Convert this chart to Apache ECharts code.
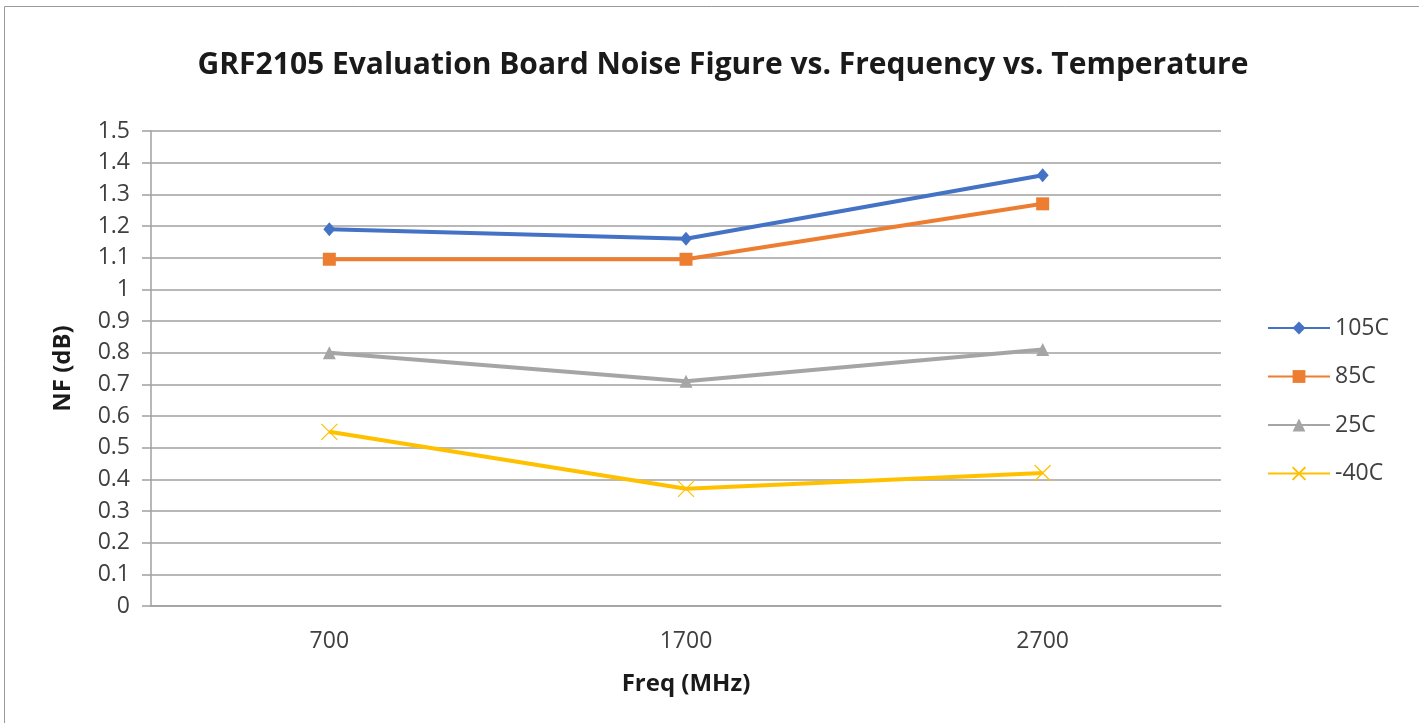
<!DOCTYPE html>
<html>
<head>
<meta charset="utf-8">
<script src="https://cdn.jsdelivr.net/npm/echarts@6/dist/echarts.min.js"></script>
<style>
html,body{margin:0;padding:0;background:#fff;}
#chart{width:1419px;height:723px;}
</style>
</head>
<body>
<div id="chart"></div>
<script>
const categories = ['700', '1700', '2700'];
const s105 = [1.19, 1.16, 1.36];
const s85 = [1.095, 1.095, 1.27];
const s25 = [0.80, 0.71, 0.81];
const sm40 = [0.55, 0.37, 0.42];
const seriesNames = ['105C', '85C', '25C', '-40C'];
const yTicks = { min: 0, max: 1.5, interval: 0.1 };

const chart = echarts.init(document.getElementById('chart'), null, { renderer: 'canvas' });
const txt = '#404040';
const font = '"Open Sans", sans-serif';
const colors = ['#4472c4', '#ed7d31', '#a5a5a5', '#ffc000'];
const symbols = ['diamond', 'rect', 'triangle', 'path://M0,0L10,10M10,0L0,10'];
const sizes = [[12, 14], 13, 13, 16];
const datas = [s105, s85, s25, sm40];

chart.setOption({
  animation: false,
  backgroundColor: '#fff',
  title: {
    text: 'GRF2105 Evaluation Board Noise Figure vs. Frequency vs. Temperature',
    left: 718, top: 45, textAlign: 'center',
    textStyle: { fontFamily: font, fontWeight: 'bold', fontSize: 30, color: '#1a1a1a' }
  },
  graphic: [
    { type: 'line', shape: { x1: 4.5, y1: 6.5, x2: 1419, y2: 6.5 }, style: { stroke: '#9a9a9a', lineWidth: 1 } },
    { type: 'line', shape: { x1: 4.5, y1: 6.5, x2: 4.5, y2: 723 }, style: { stroke: '#9a9a9a', lineWidth: 1 } }
  ],
  legend: {
    orient: 'vertical', left: 1262, top: 309, itemGap: 20.5,
    itemWidth: 62, itemHeight: 16,
    textStyle: { fontFamily: font, fontSize: 23, color: txt, lineHeight: 28 },
    data: seriesNames
  },
  grid: { left: 151, right: 198, top: 131, bottom: 117 },
  xAxis: {
    type: 'category', data: categories, boundaryGap: true,
    name: 'Freq (MHz)', nameLocation: 'middle', nameGap: 66,
    nameTextStyle: { fontFamily: font, fontWeight: 'bold', fontSize: 24, color: '#1a1a1a' },
    axisLine: { lineStyle: { color: '#a0a0a0', width: 1.5 } },
    axisTick: { show: false },
    axisLabel: { fontFamily: font, fontSize: 23, color: txt, margin: 24 }
  },
  yAxis: {
    type: 'value', min: yTicks.min, max: yTicks.max, interval: yTicks.interval,
    name: 'NF (dB)', nameLocation: 'middle', nameGap: 76, nameRotate: 90,
    nameTextStyle: { fontFamily: font, fontWeight: 'bold', fontSize: 24, color: '#1a1a1a' },
    axisLine: { show: true, lineStyle: { color: '#a0a0a0', width: 1.5 } },
    axisTick: { show: true, length: 9, lineStyle: { color: '#a0a0a0', width: 1.5 } },
    splitLine: { lineStyle: { color: '#a0a0a0', width: 1.5 } },
    axisLabel: { fontFamily: font, fontSize: 23, color: txt, margin: 21,
      formatter: v => String(Math.round(v * 10) / 10) }
  },
  series: datas.map((d, i) => ({
    name: seriesNames[i], type: 'line', data: d,
    symbol: symbols[i], symbolSize: sizes[i],
    lineStyle: { color: colors[i], width: 4 },
    itemStyle: i === 3 ? { color: 'none', borderColor: colors[i], borderWidth: 1.2 } : { color: colors[i] },
    z: 10 - i
  }))
});
</script>
</body>
</html>
